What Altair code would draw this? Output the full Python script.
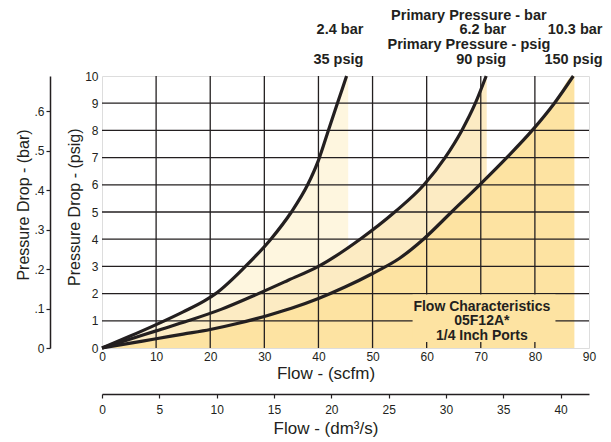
import altair as alt
import pandas as pd

# ---- data (flow in scfm, pressure drop in psig) ----
c35_x = [0, 5, 10, 15, 19, 21, 26.5, 31.2, 35.0, 38.0, 40.0, 42.0, 43.6, 45.2]
c35_y = [0, 0.42, 0.86, 1.33, 1.74, 2.0, 3.0, 4.0, 5.0, 6.0, 6.9, 8.1, 9.05, 10.0]

c90_x = [0, 5, 10, 15.9, 22, 28.9, 34.5, 40, 47.7, 54.1, 59.5, 63.4, 66.5, 69.0, 71.0]
c90_y = [0, 0.31, 0.63, 1.0, 1.42, 2.0, 2.5, 3.0, 4.0, 5.0, 6.0, 7.0, 8.0, 9.0, 10.0]

c150_x = [0, 5, 10, 15, 20, 25, 30, 35, 40, 45, 50, 55, 59.4, 64.6, 69.8, 74.8, 79.5, 83.6, 87.1]
c150_y = [0, 0.17, 0.34, 0.51, 0.68, 0.9, 1.16, 1.46, 1.82, 2.25, 2.74, 3.3, 4.0, 5.0, 6.0, 7.0, 8.0, 9.0, 10.0]

fill_end = [45.5, 71.1, 87.3]          # right edge of each shaded band (scfm)
curve_names = ["35 psig", "90 psig", "150 psig"]
bar_labels = ["2.4 bar", "6.2 bar", "10.3 bar"]
header_lines = ["Primary Pressure - bar", "Primary Pressure - psig"]
note_lines = ["Flow Characteristics", "05F12A*", "1/4 Inch Ports"]

x_ticks = list(range(0, 91, 10))
y_ticks = list(range(0, 11))
dm_ticks = list(range(0, 41, 5))
bar_ticks = [0, 0.1, 0.2, 0.3, 0.4, 0.5, 0.6]

SCFM_TO_DM3S = 0.4719474
PSI_TO_BAR = 0.0689476

# ---- layout / style constants ----
INK = "#231f20"
FILLS = ["#FEF6DF", "#FCEBC3", "#FDE3A2"]
FONT = "Liberation Sans"
label_right = [48.3, 74.7, 92.5]
row_y_bar, row_y_psig = 11.53, 10.43
head_x = 67.8
head_y = [12.05, 10.98]
note_x = 70.2
note_y = [1.37, 0.846, 0.294]
box = dict(x=57.4, x2=83.8, y=0.22, y2=1.97)

curves_x = [c35_x, c90_x, c150_x]
curves_y = [c35_y, c90_y, c150_y]

x_axis = alt.Axis(values=x_ticks, grid=False, ticks=False, domain=False, labelFlush=False,
                  labelPadding=3, labelFontSize=12, labelColor=INK, labelFont=FONT,
                  title="Flow - (scfm)", titleFont=FONT, titleFontSize=17, titleFontWeight="normal",
                  titleColor=INK, titleX=223.5, titleY=30, titleAlign="center", titleBaseline="alphabetic")
y_axis = alt.Axis(values=y_ticks, grid=False, ticks=False, domain=False, labelFlush=False,
                  labelPadding=4, labelFontSize=12, labelColor=INK, labelFont=FONT,
                  title="Pressure Drop - (psig)", titleFont=FONT, titleFontSize=16, titleFontWeight="normal",
                  titleColor=INK, titleX=-27.5, titleY=130.7, titleAngle=270, titleAlign="center",
                  titleBaseline="middle")

X = alt.X("x:Q", scale=alt.Scale(domain=[0, 90], nice=False, zero=False), axis=x_axis)
Y = alt.Y("y:Q", scale=alt.Scale(domain=[0, 10], nice=False, zero=False), axis=y_axis)

layers = []
# shaded bands
for i in range(3):
    df = pd.DataFrame({"x": curves_x[i] + [fill_end[i]], "y": curves_y[i] + [10.0]})
    layers.append(alt.Chart(df).mark_area(color=FILLS[i], interpolate="monotone").encode(x=X, y=Y))

# grid
layers.append(alt.Chart(pd.DataFrame({"x": x_ticks[1:-1]})).mark_rule(color=INK, strokeWidth=1.3).encode(x=X))
layers.append(alt.Chart(pd.DataFrame({"y": y_ticks[1:-1]})).mark_rule(color=INK, strokeWidth=1.3).encode(y=Y))

# note box
box_df = pd.DataFrame([box])
layers.append(alt.Chart(box_df).mark_rect(color=FILLS[2]).encode(x=X, x2="x2:Q", y=Y, y2="y2:Q"))
note_df = pd.DataFrame({"t": note_lines, "x": [note_x] * 3, "y": note_y})
layers.append(alt.Chart(note_df).mark_text(font=FONT, fontSize=14, fontWeight="bold", color=INK,
                                           align="center", baseline="alphabetic")
              .encode(x=X, y=Y, text="t:N"))

# curves
rows = []
for name, xs, ys in zip(curve_names, curves_x, curves_y):
    for a, b in zip(xs, ys):
        rows.append({"curve": name, "x": a, "y": b})
curve_df = pd.DataFrame(rows)
layers.append(alt.Chart(curve_df).mark_line(color=INK, strokeWidth=3.2, interpolate="monotone")
              .encode(x=X, y=Y, detail="curve:N"))

# header
head_df = pd.DataFrame({"t": header_lines, "x": [head_x] * 2, "y": head_y})
layers.append(alt.Chart(head_df).mark_text(font=FONT, fontSize=14.5, fontWeight="bold", color=INK,
                                           align="center", baseline="alphabetic")
              .encode(x=X, y=Y, text="t:N"))
lab_df = pd.DataFrame({"t": bar_labels + curve_names, "x": label_right * 2,
                       "y": [row_y_bar] * 3 + [row_y_psig] * 3})
layers.append(alt.Chart(lab_df).mark_text(font=FONT, fontSize=14.5, fontWeight="bold", color=INK,
                                          align="right", baseline="alphabetic")
              .encode(x=X, y=Y, text="t:N"))

main = alt.layer(*layers)

# secondary axes (dm3/s and bar) via converted units
dm_axis = alt.Axis(values=dm_ticks, grid=False, orient="bottom", offset=46, ticks=True, tickSize=4,
                   tickColor=INK, tickWidth=1.2, domainColor=INK, domainWidth=1.5, labelFlush=False,
                   labelPadding=6, labelFontSize=12, labelColor=INK, labelFont=FONT,
                   title="Flow - (dm³/s)", titleFont=FONT, titleFontSize=17, titleFontWeight="normal",
                   titleColor=INK, titleX=223.5, titleY=39, titleAlign="center", titleBaseline="alphabetic")
bar_axis = alt.Axis(values=bar_ticks, grid=False, orient="left", offset=52, ticks=True, tickSize=4,
                    tickColor=INK, tickWidth=1.2, domainColor=INK, domainWidth=1.5, labelFlush=False,
                    labelPadding=2, labelFontSize=12, labelColor=INK, labelFont=FONT,
                    labelExpr="datum.value == 0 ? '0' : replace(format(datum.value, '.1f'), '0.', '.')",
                    title="Pressure Drop - (bar)", titleFont=FONT, titleFontSize=16, titleFontWeight="normal",
                    titleColor=INK, titleX=-27, titleY=128.5, titleAngle=270, titleAlign="center",
                    titleBaseline="middle")

conv = alt.Chart(pd.DataFrame({"x": c150_x, "y": c150_y})).transform_calculate(
    dm=f"datum.x * {SCFM_TO_DM3S}", bar=f"datum.y * {PSI_TO_BAR}"
).mark_line(opacity=0).encode(
    x=alt.X("dm:Q", scale=alt.Scale(domain=[0, 90 * SCFM_TO_DM3S], nice=False, zero=False), axis=dm_axis),
    y=alt.Y("bar:Q", scale=alt.Scale(domain=[0, 10 * PSI_TO_BAR], nice=False, zero=False), axis=bar_axis),
)

chart = alt.layer(main, conv).resolve_scale(x="independent", y="independent").properties(
    width=487, height=272,
    autosize=alt.AutoSizeParams(type="none"),
    padding={"left": 94, "top": 68, "right": 14, "bottom": 92},
).configure_view(stroke=INK, strokeWidth=1.5).configure(font=FONT)

chart.save("out.html", embed_options={"renderer": "svg", "actions": False})
